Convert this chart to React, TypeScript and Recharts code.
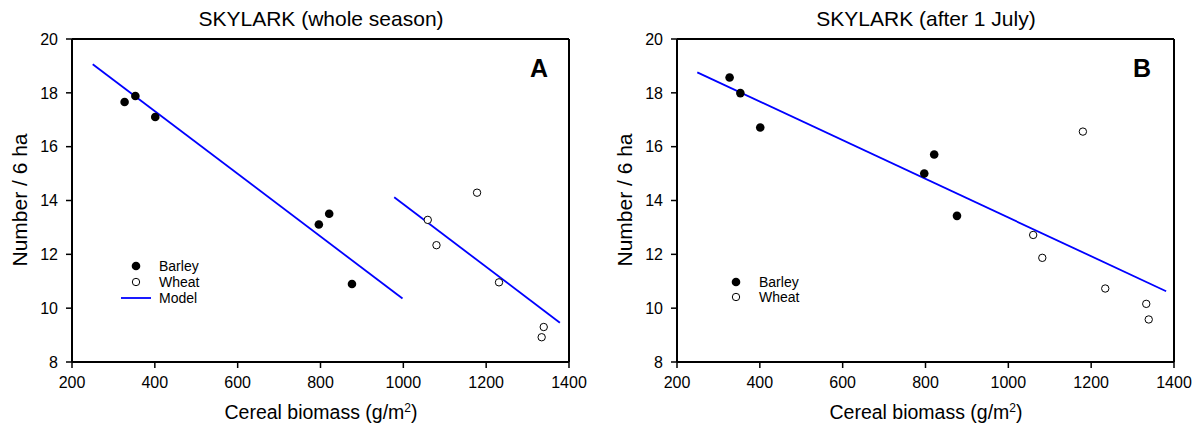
import { ScatterChart, Scatter, XAxis, YAxis, ReferenceLine } from "recharts";

const xTicks = [200, 400, 600, 800, 1000, 1200, 1400];
const yTicks = [8, 10, 12, 14, 16, 18, 20];

// Panel A – whole season
const barleyA = [
  { x: 327, y: 17.66 },
  { x: 353, y: 17.88 },
  { x: 401, y: 17.1 },
  { x: 796, y: 13.11 },
  { x: 821, y: 13.51 },
  { x: 876, y: 10.9 },
];
const wheatA = [
  { x: 1059, y: 13.28 },
  { x: 1080, y: 12.34 },
  { x: 1178, y: 14.29 },
  { x: 1231, y: 10.96 },
  { x: 1334, y: 8.92 },
  { x: 1339, y: 9.3 },
];
const modelA1 = [
  { x: 250, y: 19.06 },
  { x: 998, y: 10.36 },
];
const modelA2 = [
  { x: 978, y: 14.12 },
  { x: 1378, y: 9.46 },
];

// Panel B – after 1 July
const barleyB = [
  { x: 327, y: 18.57 },
  { x: 353, y: 17.99 },
  { x: 401, y: 16.71 },
  { x: 797, y: 15.0 },
  { x: 821, y: 15.71 },
  { x: 876, y: 13.43 },
];
const wheatB = [
  { x: 1060, y: 12.72 },
  { x: 1082, y: 11.87 },
  { x: 1180, y: 16.56 },
  { x: 1234, y: 10.73 },
  { x: 1333, y: 10.16 },
  { x: 1339, y: 9.58 },
];
const modelB = [
  { x: 249, y: 18.76 },
  { x: 1381, y: 10.63 },
];

const FONT = '"Liberation Sans", Arial, sans-serif';
const BLUE = "#0000ff";

const Filled = (p: any) => <circle cx={p.cx} cy={p.cy} r={4.3} fill="#000" />;
const Open = (p: any) => (
  <circle cx={p.cx} cy={p.cy} r={3.7} fill="#fff" stroke="#000" strokeWidth={1} />
);
const NoDot = () => <g />;

type PanelProps = {
  left: number;
  width: number;
  margin: { top: number; right: number; bottom: number; left: number };
  barley: { x: number; y: number }[];
  wheat: { x: number; y: number }[];
  models: { x: number; y: number }[][];
};

function Panel({ left, width, margin, barley, wheat, models }: PanelProps) {
  return (
    <div style={{ position: "absolute", left, top: 0, width, height: 426 }}>
      <ScatterChart width={width} height={426} margin={margin} style={{ fontFamily: FONT }}>
        <XAxis
          type="number"
          dataKey="x"
          domain={[200, 1400]}
          ticks={xTicks}
          allowDataOverflow
          height={30}
          tickSize={6}
          tickMargin={9}
          axisLine={{ stroke: "#000", strokeWidth: 2 }}
          tickLine={{ stroke: "#000", strokeWidth: 1.5 }}
          tick={{ fill: "#000", fontSize: 16 }}
        />
        <YAxis
          type="number"
          dataKey="y"
          domain={[8, 20]}
          ticks={yTicks}
          allowDataOverflow
          width={60}
          tickSize={6}
          tickMargin={8}
          axisLine={{ stroke: "#000", strokeWidth: 2 }}
          tickLine={{ stroke: "#000", strokeWidth: 1.5 }}
          tick={{ fill: "#000", fontSize: 16 }}
        />
        <ReferenceLine y={20} stroke="#000" strokeWidth={2} />
        <ReferenceLine x={1400} stroke="#000" strokeWidth={2} />
        {models.map((m, i) => (
          <Scatter
            key={i}
            data={m}
            line={{ stroke: BLUE, strokeWidth: 1.8 }}
            shape={NoDot}
            isAnimationActive={false}
          />
        ))}
        <Scatter data={barley} shape={Filled} isAnimationActive={false} />
        <Scatter data={wheat} shape={Open} isAnimationActive={false} />
      </ScatterChart>
    </div>
  );
}

const abs = (x: number, y: number, extra: React.CSSProperties = {}): React.CSSProperties => ({
  position: "absolute",
  left: x,
  top: y,
  transform: "translate(-50%, -50%)",
  whiteSpace: "nowrap",
  lineHeight: 1,
  ...extra,
});

function LegendRow({ x, y, kind, label }: { x: number; y: number; kind: string; label: string }) {
  return (
    <>
      <svg style={{ position: "absolute", left: x - 16, top: y - 6 }} width={32} height={12}>
        {kind === "filled" && <circle cx={16} cy={6} r={4.3} fill="#000" />}
        {kind === "open" && <circle cx={16} cy={6} r={3.7} fill="#fff" stroke="#000" />}
        {kind === "line" && <line x1={1} x2={31} y1={6} y2={6} stroke={BLUE} strokeWidth={1.8} />}
      </svg>
      <div style={{ position: "absolute", left: x + 23, top: y - 8, fontSize: 14, lineHeight: "16px" }}>
        {label}
      </div>
    </>
  );
}

export default function App() {
  return (
    <div
      style={{
        position: "absolute",
        left: 0,
        top: 0,
        width: 1195,
        height: 426,
        background: "#fff",
        fontFamily: FONT,
        color: "#000",
        overflow: "hidden",
      }}
    >
      <Panel
        left={0}
        width={596}
        margin={{ top: 39, right: 27, bottom: 34, left: 12 }}
        barley={barleyA}
        wheat={wheatA}
        models={[modelA1, modelA2]}
      />
      <Panel
        left={596}
        width={599}
        margin={{ top: 39, right: 21, bottom: 34, left: 21 }}
        barley={barleyB}
        wheat={wheatB}
        models={[modelB]}
      />

      <div style={abs(321, 18, { fontSize: 21 })}>SKYLARK (whole season)</div>
      <div style={abs(926, 18, { fontSize: 21 })}>SKYLARK (after 1 July)</div>

      <div style={abs(19, 200, { fontSize: 21, transform: "translate(-50%, -50%) rotate(-90deg)" })}>
        Number / 6 ha
      </div>
      <div style={abs(624, 200, { fontSize: 21, transform: "translate(-50%, -50%) rotate(-90deg)" })}>
        Number / 6 ha
      </div>

      <div style={abs(321, 413, { fontSize: 19.5 })}>
        Cereal biomass (g/m<sup style={{ fontSize: 12, lineHeight: 0 }}>2</sup>)
      </div>
      <div style={abs(926, 413, { fontSize: 19.5 })}>
        Cereal biomass (g/m<sup style={{ fontSize: 12, lineHeight: 0 }}>2</sup>)
      </div>

      <div style={abs(539, 68, { fontSize: 25, fontWeight: "bold" })}>A</div>
      <div style={abs(1142, 68, { fontSize: 25, fontWeight: "bold" })}>B</div>

      <LegendRow x={136} y={266} kind="filled" label="Barley" />
      <LegendRow x={136} y={282} kind="open" label="Wheat" />
      <LegendRow x={136} y={298} kind="line" label="Model" />

      <LegendRow x={736} y={282} kind="filled" label="Barley" />
      <LegendRow x={736} y={297} kind="open" label="Wheat" />
    </div>
  );
}
